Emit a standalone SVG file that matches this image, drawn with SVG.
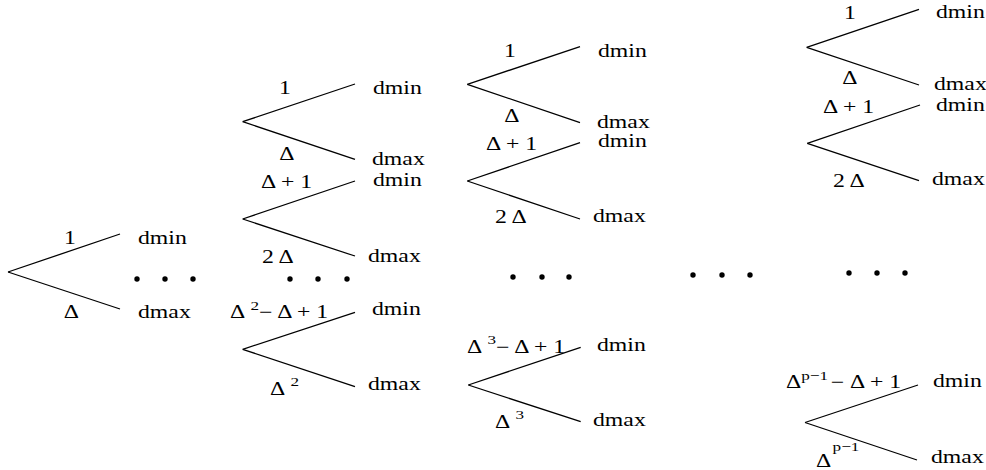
<svg xmlns="http://www.w3.org/2000/svg" width="986" height="470" viewBox="0 0 986 470">
<style>
text{font-family:"Liberation Serif","Times New Roman",serif;font-size:18px;fill:#000}
.m{text-anchor:middle}
.s{font-size:13px}
line{stroke:#000;stroke-width:1.3;fill:none}
circle{fill:#000}
</style>
<rect width="986" height="470" fill="#fff"/>
<g id="connectors">
<line x1="8" y1="272" x2="120" y2="234"/><line x1="8" y1="272" x2="120" y2="309"/>
<line x1="242.7" y1="121.7" x2="355" y2="84"/><line x1="242.7" y1="121.7" x2="355" y2="159.3"/>
<line x1="242.7" y1="219" x2="355" y2="181"/><line x1="242.7" y1="219" x2="355" y2="256"/>
<line x1="242.7" y1="349.3" x2="355" y2="312.3"/><line x1="242.7" y1="349.3" x2="355" y2="386.7"/>
<line x1="467.3" y1="84.3" x2="580" y2="46.7"/><line x1="467.3" y1="84.3" x2="580" y2="122.7"/>
<line x1="467.3" y1="181" x2="580" y2="142.7"/><line x1="467.3" y1="181" x2="580" y2="219"/>
<line x1="468.3" y1="385" x2="580.7" y2="347.3"/><line x1="468.3" y1="385" x2="580.7" y2="421.7"/>
<line x1="806.7" y1="47.3" x2="919" y2="9.3"/><line x1="806.7" y1="47.3" x2="919" y2="85"/>
<line x1="807.3" y1="143.3" x2="920" y2="105"/><line x1="807.3" y1="143.3" x2="919" y2="180.7"/>
<line x1="805" y1="422.5" x2="918" y2="385"/><line x1="805" y1="422.5" x2="917" y2="460"/>
</g>
<g id="fork1">
<text class="m" transform="translate(70,244) scale(1.32,1)">1</text>
<text transform="translate(138,244) scale(1.32,1)">dmin</text>
<text class="m" transform="translate(71.5,318) scale(1.32,1)">Δ</text>
<text transform="translate(138,318) scale(1.32,1)">dmax</text>
</g>
<g id="dots1"><circle cx="137" cy="279" r="2.7"/><circle cx="165" cy="279" r="2.7"/><circle cx="193" cy="279" r="2.7"/></g>
<g id="fork2a">
<text class="m" transform="translate(285,94) scale(1.32,1)">1</text>
<text transform="translate(373,94) scale(1.32,1)">dmin</text>
<text class="m" transform="translate(287,159.5) scale(1.32,1)">Δ</text>
<text transform="translate(372,164.5) scale(1.32,1)">dmax</text>
</g>
<g id="fork2b">
<text transform="translate(261,188) scale(1.32,1)">Δ + 1</text>
<text transform="translate(373,186) scale(1.32,1)">dmin</text>
<text transform="translate(262,262.7) scale(1.32,1)">2 Δ</text>
<text transform="translate(368,261.7) scale(1.32,1)">dmax</text>
</g>
<g id="dots2"><circle cx="290" cy="279" r="2.7"/><circle cx="318" cy="279" r="2.7"/><circle cx="347" cy="279" r="2.7"/></g>
<g id="fork2c">
<text transform="translate(230,317.5) scale(1.32,1)">Δ<tspan class="s" dx="4" dy="-8">2</tspan><tspan dy="8">− Δ + 1</tspan></text>
<text transform="translate(372,315) scale(1.32,1)">dmin</text>
<text transform="translate(270,395) scale(1.32,1)">Δ<tspan class="s" dx="4" dy="-9">2</tspan></text>
<text transform="translate(368,390) scale(1.32,1)">dmax</text>
</g>
<g id="fork3a">
<text class="m" transform="translate(510,56.7) scale(1.32,1)">1</text>
<text transform="translate(598,56.7) scale(1.32,1)">dmin</text>
<text class="m" transform="translate(512,121.7) scale(1.32,1)">Δ</text>
<text transform="translate(597,128.3) scale(1.32,1)">dmax</text>
</g>
<g id="fork3b">
<text transform="translate(486,150) scale(1.32,1)">Δ + 1</text>
<text transform="translate(598,147) scale(1.32,1)">dmin</text>
<text transform="translate(495,223.3) scale(1.32,1)">2 Δ</text>
<text transform="translate(593,221.7) scale(1.32,1)">dmax</text>
</g>
<g id="dots3"><circle cx="513" cy="277" r="2.7"/><circle cx="542" cy="277" r="2.7"/><circle cx="569" cy="277" r="2.7"/></g>
<g id="fork3c">
<text transform="translate(467,352.7) scale(1.32,1)">Δ<tspan class="s" dx="4" dy="-9">3</tspan><tspan dy="9">− Δ + 1</tspan></text>
<text transform="translate(597,350.7) scale(1.32,1)">dmin</text>
<text transform="translate(495,428.3) scale(1.32,1)">Δ<tspan class="s" dx="4" dy="-9">3</tspan></text>
<text transform="translate(593,426) scale(1.32,1)">dmax</text>
</g>
<g id="dots4"><circle cx="693" cy="275" r="2.7"/><circle cx="722" cy="275" r="2.7"/><circle cx="750" cy="275" r="2.7"/></g>
<g id="fork4a">
<text class="m" transform="translate(850,19) scale(1.32,1)">1</text>
<text transform="translate(936,18.3) scale(1.32,1)">dmin</text>
<text class="m" transform="translate(850,84.3) scale(1.32,1)">Δ</text>
<text transform="translate(934,90) scale(1.32,1)">dmax</text>
</g>
<g id="fork4b">
<text transform="translate(823,112.5) scale(1.32,1)">Δ + 1</text>
<text transform="translate(936,110.5) scale(1.32,1)">dmin</text>
<text transform="translate(833,187.3) scale(1.32,1)">2 Δ</text>
<text transform="translate(932,185) scale(1.32,1)">dmax</text>
</g>
<g id="dots5"><circle cx="849" cy="273" r="2.7"/><circle cx="877" cy="273" r="2.7"/><circle cx="905" cy="273" r="2.7"/></g>
<g id="fork4c">
<text transform="translate(786,388.3) scale(1.32,1)">Δ<tspan class="s" dy="-8">p−1</tspan><tspan dx="2" dy="8">− Δ + 1</tspan></text>
<text transform="translate(933,387.3) scale(1.32,1)">dmin</text>
<text transform="translate(816,467) scale(1.32,1)">Δ<tspan class="s" dx="1" dy="-16">p−1</tspan></text>
<text transform="translate(931,463.3) scale(1.32,1)">dmax</text>
</g>
</svg>
